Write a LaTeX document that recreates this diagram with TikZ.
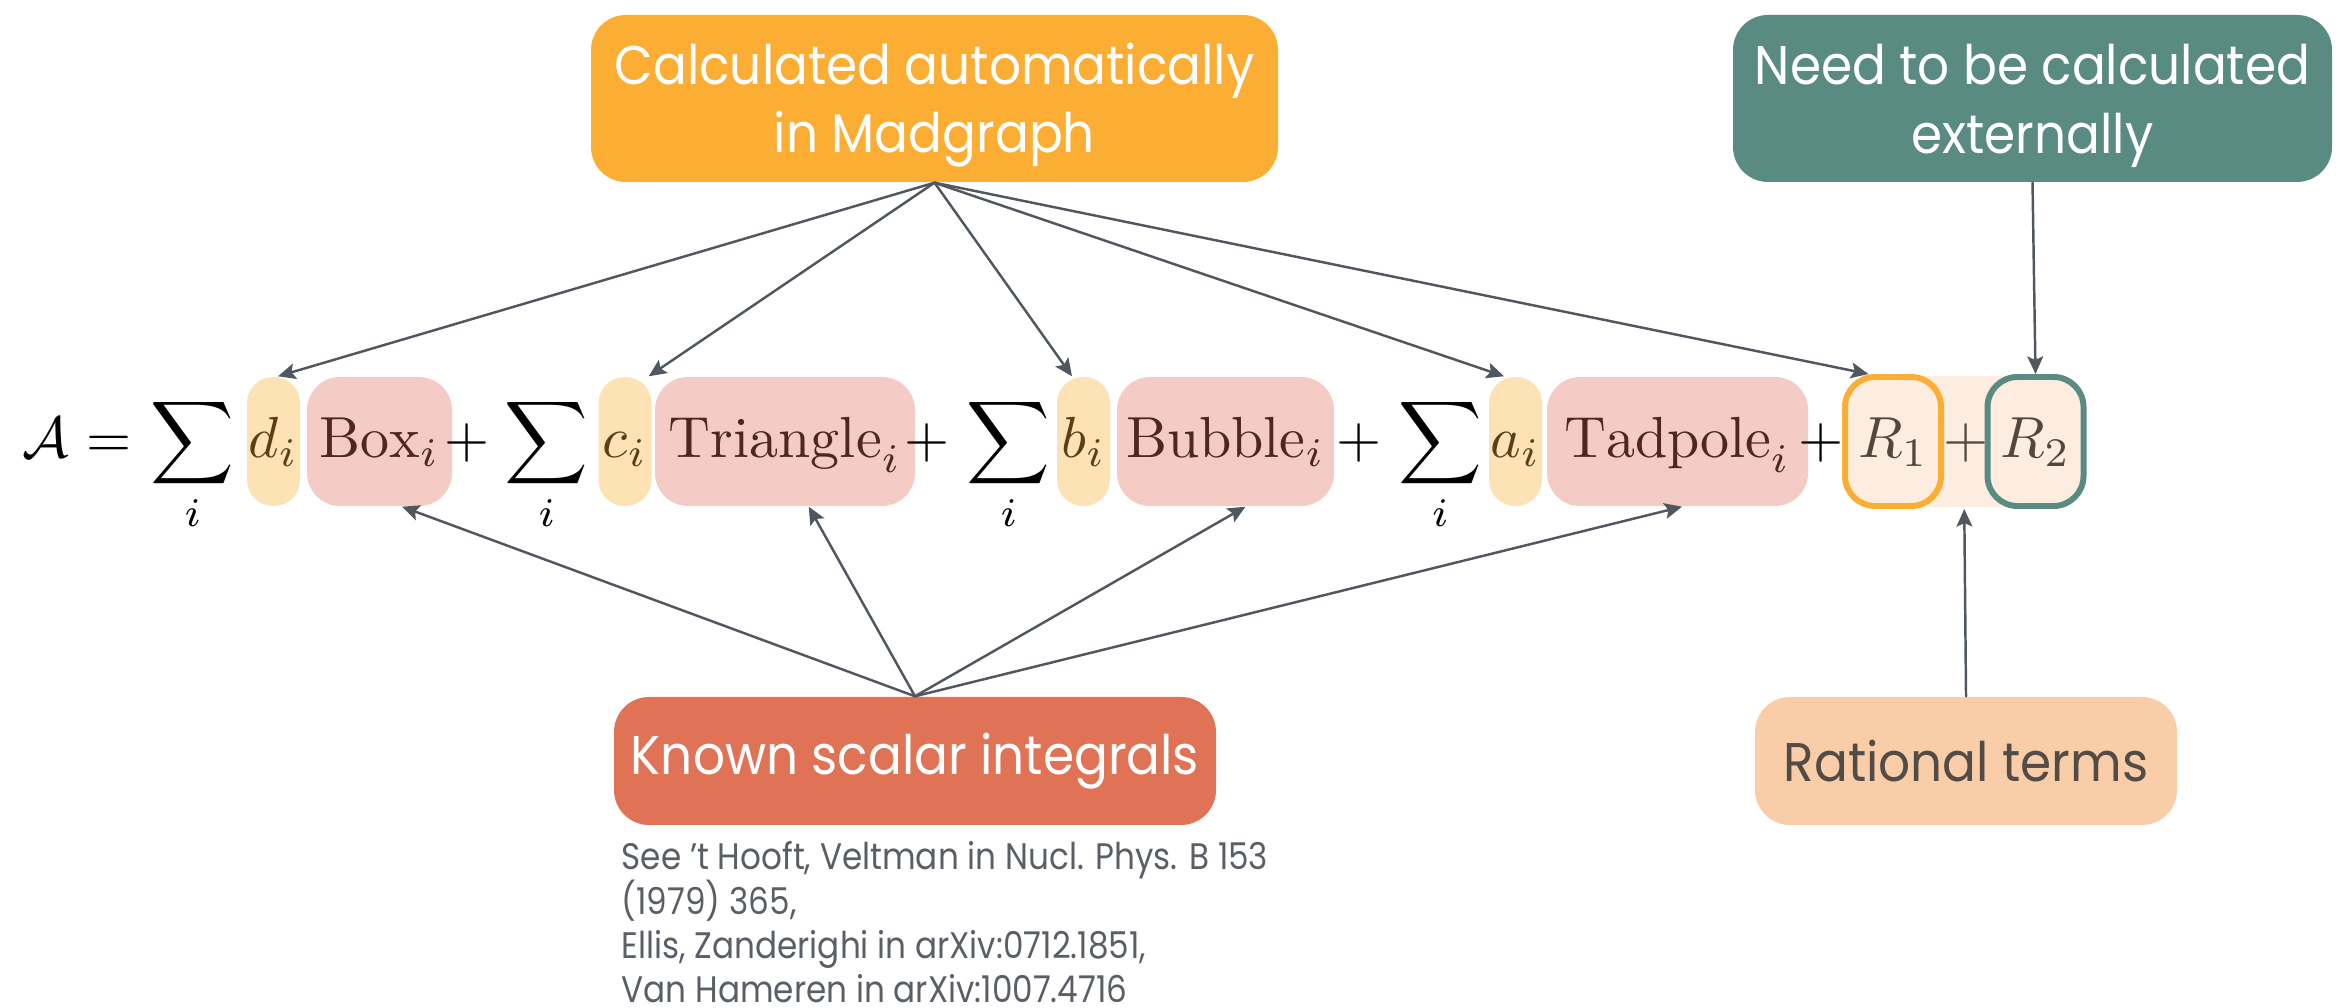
\documentclass[tikz,border=0pt]{standalone}
\usepackage{amsmath,amssymb}
\usepackage{fontspec}
\newfontfamily\cardfont{Poppins}[FakeStretch=0.92]
\newfontfamily\notefont{Poppins}[FakeStretch=0.885]
\usetikzlibrary{arrows.meta,backgrounds,calc}

\definecolor{mgorange}{HTML}{FCAD33}
\definecolor{extgreen}{HTML}{5A8B83}
\definecolor{knownred}{HTML}{E07256}
\definecolor{ratpeach}{HTML}{F8CDA8}
\definecolor{coeffill}{HTML}{FDE2B5}
\definecolor{coeftext}{HTML}{5C3D14}
\definecolor{termfill}{HTML}{F4CCC5}
\definecolor{termtext}{HTML}{4F2721}
\definecolor{rfill}{HTML}{FDEDE1}
\definecolor{rtext}{HTML}{54463B}
\definecolor{linkgray}{HTML}{50575F}
\definecolor{notegray}{HTML}{5A5F66}

% formula pieces are set at 10pt and blown up
\newcommand{\eqm}[1]{\scalebox{1.65}{$#1$}}
\newcommand{\term}[1]{\eqm{\mathrm{#1}_i}\hspace{2.6mm}}

\tikzset{
  card/.style={rounded corners=0.35cm, align=center, inner sep=0pt,
    font=\cardfont\fontsize{15.5}{19.4}\selectfont},
  hl/.style={inner sep=0pt, text height=0.81cm, text depth=0.48cm},
  coef/.style={hl, fill=coeffill, text=coeftext, rounded corners=0.26cm, minimum width=0.53cm},
  term/.style={hl, fill=termfill, text=termtext, rounded corners=0.33cm},
  rterm/.style={hl, fill=rfill, text=rtext, line width=1.7pt, rounded corners=0.3cm, minimum width=0.96cm},
  sym/.style={anchor=base, inner sep=0pt},
  link/.style={-{Stealth[length=5pt,width=4.5pt,inset=1pt]}, line width=0.7pt, draw=linkgray},
}

\begin{document}
\begin{tikzpicture}[line cap=round, line join=round]
  \useasboundingbox (0,0) rectangle (23.45,10.08);

  % Labels above and below the formula
  \node[card, fill=mgorange, text=white, minimum width=6.87cm, minimum height=1.67cm]
    (obox) at (9.345,9.095) {\rule{0pt}{0.55cm}Calculated automatically\\in Madgraph};
  \node[card, fill=extgreen, text=white, minimum width=5.99cm, minimum height=1.67cm]
    (gbox) at (20.325,9.095) {\rule{0pt}{0.55cm}Need to be calculated\\externally};
  \node[card, fill=knownred, text=white, minimum width=6.02cm, minimum height=1.28cm]
    (kbox) at (9.15,2.47) {Known scalar integrals};
  \node[card, fill=ratpeach, text=rtext!70!linkgray, minimum width=4.22cm, minimum height=1.28cm]
    (rat) at (19.66,2.47) {Rational terms};
  \node[anchor=north west, align=left, inner sep=0pt, text=notegray,
    font=\notefont\fontsize{10.5}{12.6}\selectfont] (refs) at (6.21,1.67)
    {See ’t Hooft, Veltman in Nucl. Phys. B 153\\(1979) 365,\\
     Ellis, Zanderighi in arXiv:0712.1851,\\Van Hameren in arXiv:1007.4716};

  % The decomposition, term by term
  \node[sym] (lhs) at (0.46,5.50) {\eqm{\mathcal{A}}};
  \node[sym] (eq) at (1.09,5.50) {\eqm{=}};
  \node[sym] (s1) at (1.925,5.50) {\eqm{\displaystyle\sum_i}};
  \node[coef] (d) at (2.735,5.665) {\eqm{d_i}};
  \node[term, minimum width=1.45cm] (box) at (3.795,5.665) {\term{Box}};
  \node[sym] (p1) at (4.67,5.50) {\eqm{+}};
  \node[sym] (s2) at (5.465,5.50) {\eqm{\displaystyle\sum_i}};
  \node[coef] (c) at (6.25,5.665) {\eqm{c_i}};
  \node[term, minimum width=2.60cm] (tri) at (7.85,5.665) {\term{Triangle}};
  \node[sym] (p2) at (9.275,5.50) {\eqm{+}};
  \node[sym] (s3) at (10.085,5.50) {\eqm{\displaystyle\sum_i}};
  \node[coef] (b) at (10.835,5.665) {\eqm{b_i}};
  \node[term, minimum width=2.17cm] (bub) at (12.255,5.665) {\term{Bubble}};
  \node[sym] (p3) at (13.59,5.50) {\eqm{+}};
  \node[sym] (s4) at (14.40,5.50) {\eqm{\displaystyle\sum_i}};
  \node[coef] (a) at (15.155,5.665) {\eqm{a_i}};
  \node[term, minimum width=2.61cm] (tad) at (16.775,5.665) {\term{Tadpole}};
  \node[sym] (p4) at (18.215,5.50) {\eqm{+}};
  \node[rterm, draw=mgorange] (r1) at (18.93,5.665) {\eqm{R_1}};
  \node[sym, text=rtext] (p5) at (19.66,5.50) {\eqm{+}};
  \node[rterm, draw=extgreen] (r2) at (20.355,5.665) {\eqm{R_2}};
  \begin{scope}[on background layer]
    \fill[rfill] (r1.center |- d.north) rectangle (r2.center |- d.south);
  \end{scope}
  \coordinate (rmid) at ($(r1.south)!0.5!(r2.south)$);

  % Arrows
  \foreach \dst/\ang in {d/86, c/70, b/100, a/100, r1/110}
    \draw[link] (obox.south) -- (\dst.\ang);
  \foreach \dst/\ang in {box/-71, tri/-70, bub/-73, tad/-86}
    \draw[link] (kbox.north) -- (\dst.\ang);
  \draw[link] (gbox.south) -- (r2.north);
  \draw[link] (rat.north) -- (rmid);
\end{tikzpicture}
\end{document}
